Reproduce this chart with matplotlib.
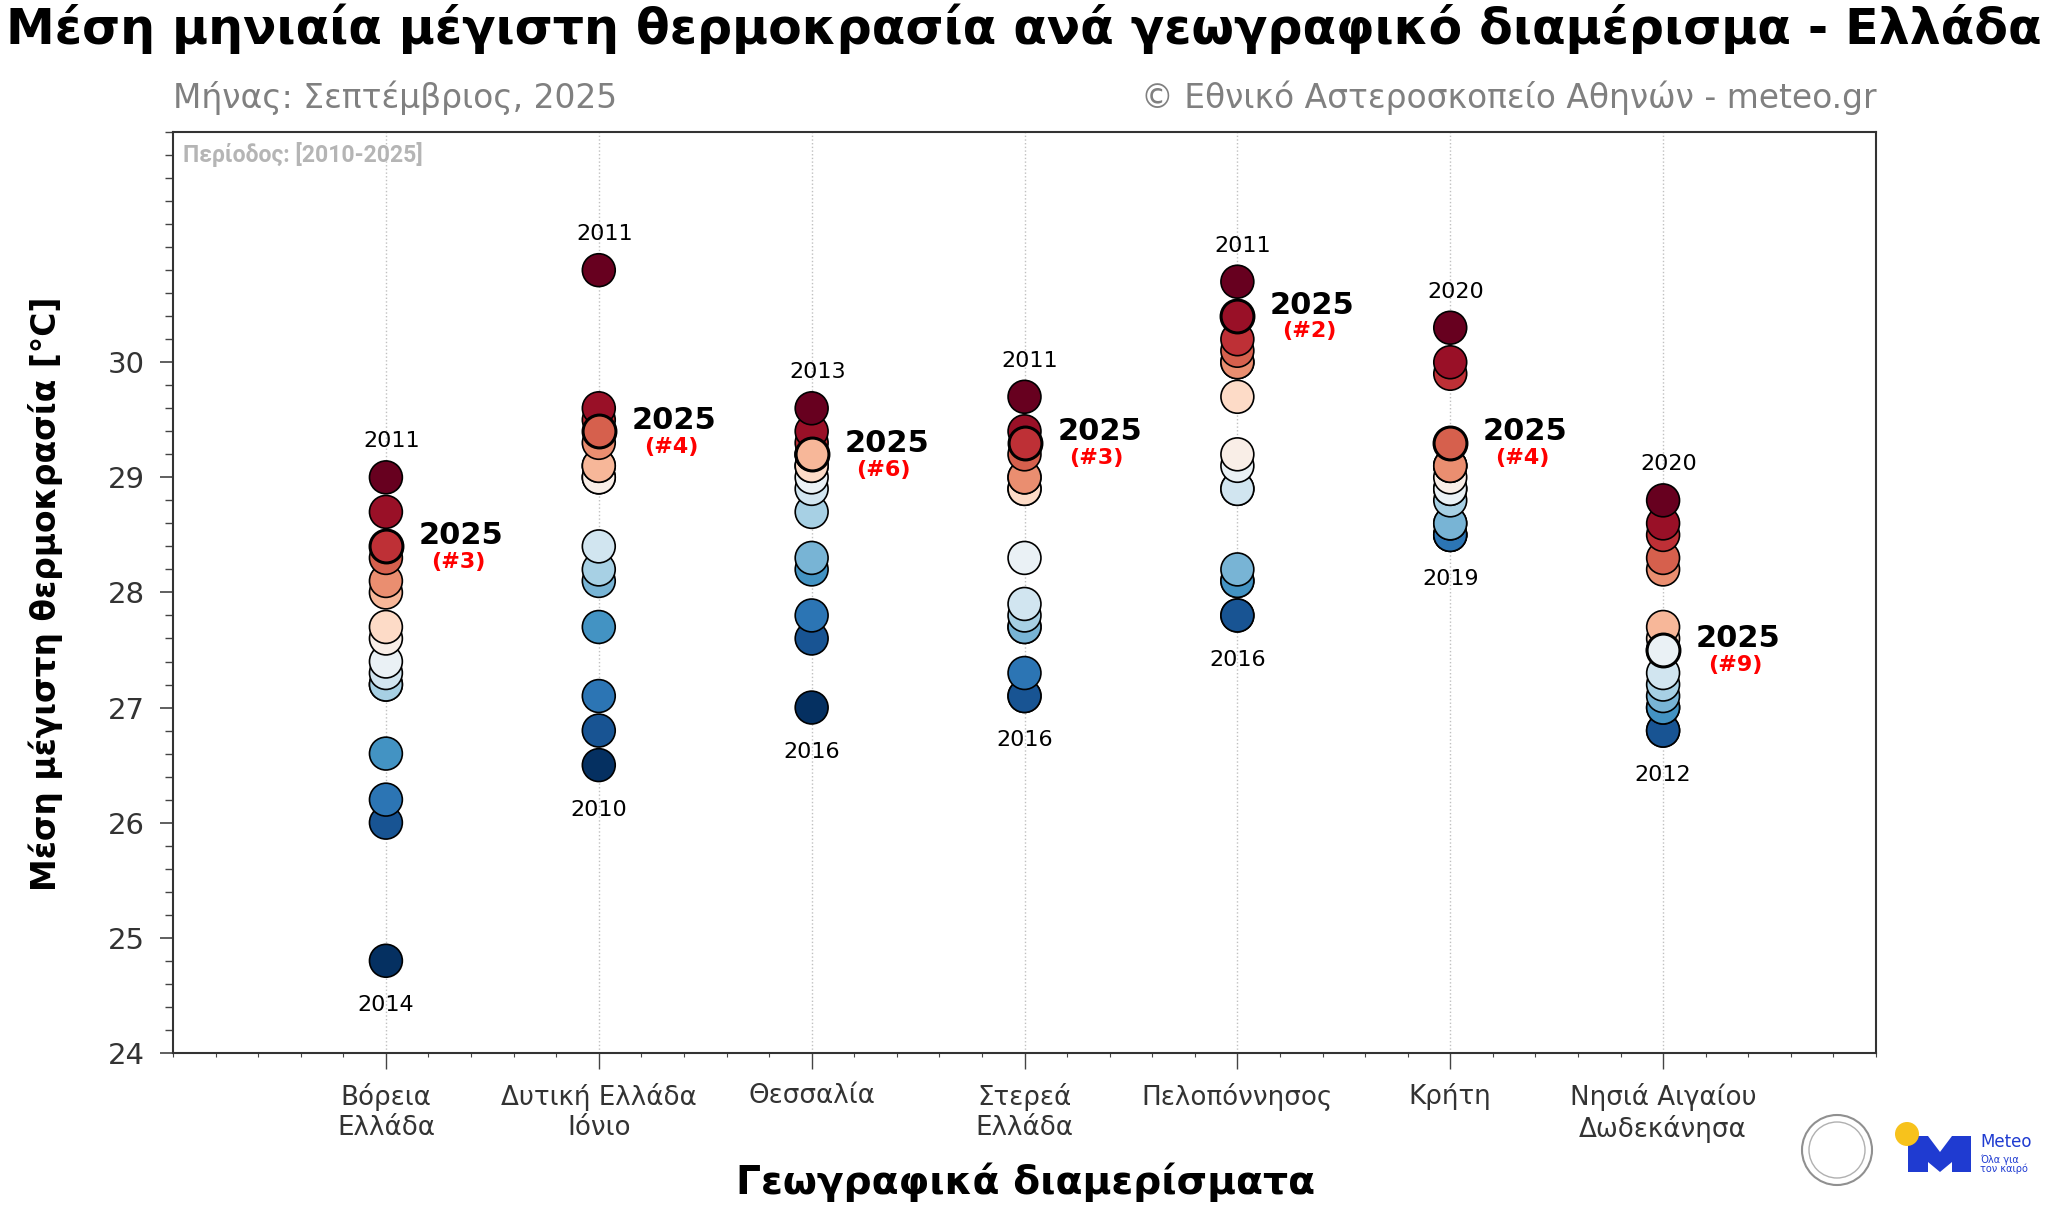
import numpy as np
import matplotlib.pyplot as plt
from matplotlib.patches import Circle, Polygon
from matplotlib.ticker import MultipleLocator, FixedLocator

plt.rcParams['font.family'] = ['DejaVu Sans']

regions = ['Βόρεια\nΕλλάδα', 'Δυτική Ελλάδα\nΙόνιο', 'Θεσσαλία', 'Στερεά\nΕλλάδα',
           'Πελοπόννησος', 'Κρήτη', 'Νησιά Αιγαίου\nΔωδεκάνησα']

# mean Sept max temperature, years 2010-2024 (order not kept), per region
vor_ellada = [29.0, 28.7, 28.3, 28.1, 28.0, 27.7, 27.6, 27.4, 27.3, 27.2, 27.2, 26.6, 26.2, 26.0, 24.8]
dyt_ellada = [30.8, 29.6, 29.5, 29.3, 29.1, 29.1, 29.0, 29.0, 28.4, 28.2, 28.1, 27.7, 27.1, 26.8, 26.5]
thessalia = [29.6, 29.4, 29.3, 29.2, 29.2, 29.1, 29.1, 29.0, 28.9, 28.7, 28.3, 28.2, 27.8, 27.6, 27.0]
sterea = [29.7, 29.4, 29.2, 29.0, 29.0, 28.9, 28.9, 28.3, 27.9, 27.8, 27.7, 27.7, 27.3, 27.1, 27.1]
peloponnisos = [30.7, 30.2, 30.1, 30.0, 30.0, 29.7, 29.2, 29.1, 28.9, 28.9, 28.2, 28.1, 28.1, 27.8, 27.8]
kriti = [30.3, 30.0, 29.9, 29.1, 29.1, 29.1, 29.0, 28.9, 28.9, 28.8, 28.6, 28.6, 28.5, 28.5, 28.5]
aigaio = [28.8, 28.6, 28.5, 28.3, 28.2, 27.7, 27.6, 27.5, 27.3, 27.2, 27.1, 27.0, 27.0, 26.8, 26.8]

v2025 = [28.4, 29.4, 29.2, 29.3, 30.4, 29.3, 27.5]
rank2025 = [3, 4, 6, 3, 2, 4, 9]
year_max = ['2011', '2011', '2013', '2011', '2011', '2020', '2020']
year_min = ['2014', '2010', '2016', '2016', '2016', '2019', '2012']

others = [vor_ellada, dyt_ellada, thessalia, sterea, peloponnisos, kriti, aigaio]

fig = plt.figure(figsize=(20.48, 12.06), dpi=100)
ax = fig.add_axes([0.0845, 0.127, 0.8315, 0.7635])

cmap = plt.get_cmap('RdBu_r')
for i, vals in enumerate(others):
    n = len(vals) + 1
    cols = cmap(np.linspace(0, 1, n))
    i25 = n - rank2025[i]
    idx = [k for k in range(n) if k != i25]
    srt = np.sort(vals)
    ax.scatter(np.full(len(srt), i), srt, s=560, c=cols[idx], edgecolors='black',
               linewidths=1.2, zorder=3)
    ax.scatter([i], [v2025[i]], s=560, c=[cols[i25]], edgecolors='black',
               linewidths=2.2, zorder=4)

    allv = list(vals) + [v2025[i]]
    ax.annotate(year_max[i], (i, max(allv)), xytext=(4, 26), textcoords='offset points',
                ha='center', va='center', fontsize=16, color='black')
    ax.annotate(year_min[i], (i, min(allv)), xytext=(0, -32), textcoords='offset points',
                ha='center', va='center', fontsize=16, color='black')
    ax.annotate('2025', (i, v2025[i]), xytext=(54, 8), textcoords='offset points',
                ha='center', va='center', fontsize=22, fontweight='bold', color='black')
    ax.annotate('(#%d)' % rank2025[i], (i, v2025[i]), xytext=(52, -11), textcoords='offset points',
                ha='center', va='center', fontsize=16, fontweight='bold', color='red')

ax.set_xlim(-1, 7)
ax.set_ylim(24, 32)
ax.set_xticks(range(len(regions)))
ax.set_xticklabels(regions, fontsize=18.8, color='#333333')
ax.xaxis.set_minor_locator(MultipleLocator(0.2))
ax.yaxis.set_major_locator(FixedLocator([24, 25, 26, 27, 28, 29, 30]))
ax.yaxis.set_minor_locator(MultipleLocator(0.2))
ax.tick_params(axis='y', which='major', labelsize=21, labelcolor='#333333', length=9.5, width=1.2,
               color='#444444', pad=11)
ax.tick_params(axis='y', which='minor', length=6, width=1, color='#444444')
ax.tick_params(axis='x', which='major', length=11.5, width=1, color='#444444', pad=10)
ax.tick_params(axis='x', which='minor', length=3, width=0.8, color='#444444')
ax.grid(axis='x', which='major', linestyle=':', color='#c0c0c0', linewidth=1)
for sp in ax.spines.values():
    sp.set_color('#333333')
    sp.set_linewidth(1.5)

ax.text(0.006, 0.976, 'Περίοδος: [2010-2025]', transform=ax.transAxes, ha='left', va='center',
        fontsize=16.6, fontweight='bold', color='#b5b5b5', family=['Roboto', 'DejaVu Sans'])

fig.text(0.5, 0.976, 'Μέση μηνιαία μέγιστη θερμοκρασία ανά γεωγραφικό διαμέρισμα - Ελλάδα',
         ha='center', va='center', fontsize=35.3, fontweight='bold')
fig.text(0.0845, 0.919, 'Μήνας: Σεπτέμβριος, 2025', ha='left', va='center', fontsize=23.7, color='#808080')
fig.text(0.9165, 0.919, '© Εθνικό Αστεροσκοπείο Αθηνών - meteo.gr', ha='right', va='center',
         fontsize=23.7, color='#808080')
fig.text(0.0224, 0.508, 'Μέση μέγιστη θερμοκρασία [°C]', rotation=90, ha='center', va='center',
         fontsize=23.7, fontweight='bold')
fig.text(0.501, 0.02, 'Γεωγραφικά διαμερίσματα', ha='center', va='center', fontsize=28.3,
         fontweight='bold')

# logos (simplified)
lax = fig.add_axes([0.0, 0.0, 1.0, 1.0], zorder=-1)
lax.set_xlim(0, 2048)
lax.set_ylim(1206, 0)
lax.axis('off')
lax.add_patch(Circle((1837, 1150), 35, fill=False, edgecolor='#909090', lw=1.5))
lax.add_patch(Circle((1837, 1150), 28, fill=False, edgecolor='#b0b0b0', lw=1))
m_shape = [(1908, 1172), (1908, 1136), (1928, 1136), (1940, 1152), (1952, 1136), (1971, 1136),
           (1971, 1172), (1952, 1172), (1952, 1162), (1940, 1172), (1928, 1162), (1928, 1172)]
lax.add_patch(Polygon(m_shape, closed=True, facecolor='#1f3bd1', edgecolor='none'))
lax.add_patch(Circle((1907, 1134), 12, facecolor='#f7c21c', edgecolor='none'))
lax.text(1980, 1142, 'Meteo', fontsize=12, color='#1f3bd1', ha='left', va='center')
lax.text(1980, 1160, 'Όλα για', fontsize=7, color='#1f3bd1', ha='left', va='center')
lax.text(1980, 1169, 'τον καιρό', fontsize=7, color='#1f3bd1', ha='left', va='center')

fig.savefig('out.png', dpi=100)
